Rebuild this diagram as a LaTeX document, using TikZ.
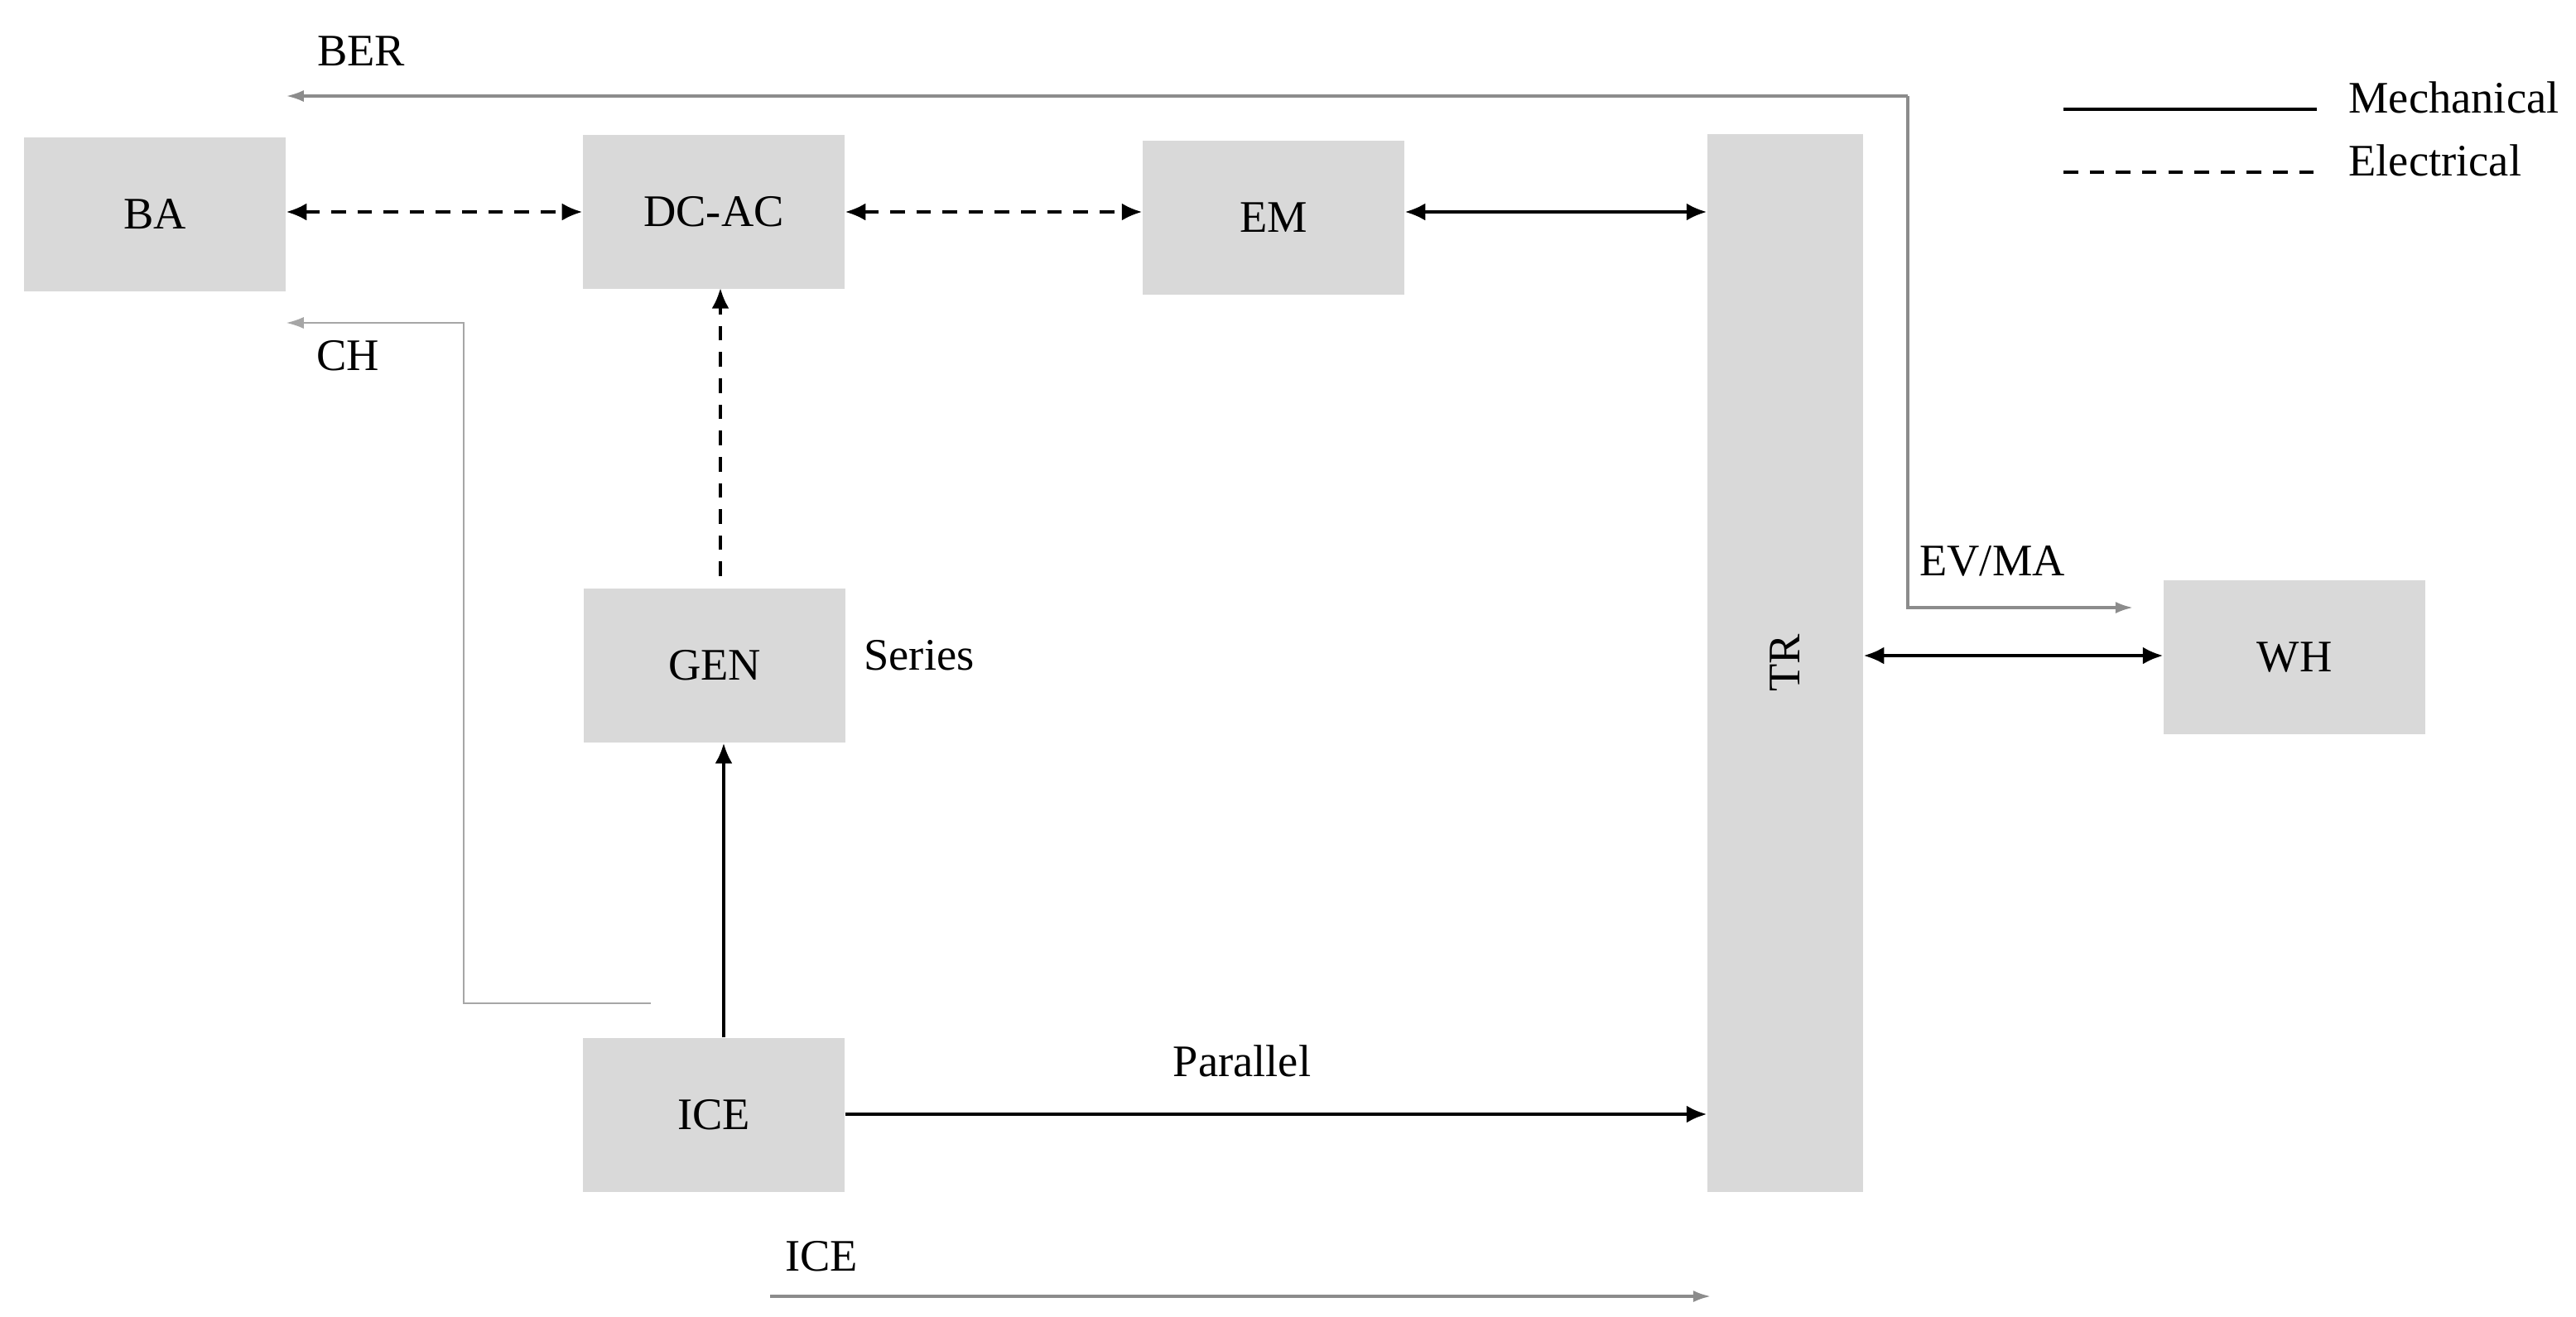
\documentclass[tikz,border=0pt]{standalone}
\usepackage{fontspec}
\setmainfont{Liberation Serif}
\usetikzlibrary{arrows.meta}
\begin{document}
\begin{tikzpicture}[x=0.02cm,y=-0.02cm,
  box/.style={draw=none,fill=black!15,minimum width=3.16cm,minimum height=1.86cm,inner sep=0pt},
  lab/.style={font=\fontsize{15.5}{18}\selectfont},
  mech/.style={line width=1.1pt,{Latex[length=7pt,width=6pt]}-{Latex[length=7pt,width=6pt]}},
  mechs/.style={line width=1.1pt,-{Latex[length=7pt,width=6pt]}},
  elec/.style={mech,dash pattern=on 5pt off 4pt},
  flow/.style={line width=0.9pt,draw=black!45,-{Latex[length=6pt,width=4pt]}}]
\useasboundingbox (0,0) rectangle (1555.5,795);
\node[box,lab] (BA) at (93.5,129.5) {BA};
\node[box,lab] (DC) at (431,128) {DC-AC};
\node[box,lab] (EM) at (769,131.5) {EM};
\node[box,lab,minimum width=1.88cm,minimum height=12.78cm] (TR) at (1078,400.5) {};
\node[lab,rotate=90] at (TR.center) {TR};
\node[box,lab] (WH) at (1385.5,397) {WH};
\node[box,lab] (GEN) at (431.5,402) {GEN};
\node[box,lab] (ICE) at (431,673.5) {ICE};
\draw[elec] (BA.east|-0,128) -- (DC.west|-0,128);
\draw[elec] (DC.east|-0,128) -- (EM.west|-0,128);
\draw[mech] (EM.east|-0,128) -- (TR.west|-0,128);
\draw[mechs,dash pattern=on 5pt off 4pt] (435,348) -- (435,174);
\draw[mechs] (ICE.north-|437,0) -- (GEN.south-|437,0);
\draw[mechs] (ICE.east|-0,673) -- (TR.west|-0,673);
\draw[mech] (TR.east|-0,396) -- (WH.west|-0,396);
\coordinate (b1) at (1152,58);
\coordinate (b2) at (1152,367);
\coordinate (e1) at (1288,367);
\draw[flow] (b1) -- (BA.east|-b1);
\draw[flow] (b1) -- (b2) -- (e1);
\coordinate (c1) at (393,606);
\coordinate (c2) at (280,606);
\coordinate (c3) at (280,195);
\draw[flow,line width=0.6pt,draw=black!35] (c1) -- (c2) -- (c3) -- (BA.east|-c3);
\coordinate (i1) at (465,783);
\coordinate (i2) at (1033,783);
\draw[flow] (i1) -- (i2);
\node[lab] at (218,31) {BER};
\node[lab] at (210,215) {CH};
\node[lab] at (1203,339) {EV/MA};
\node[lab] at (496,759) {ICE};
\node[lab] at (555,396) {Series};
\node[lab] at (750,641) {Parallel};
\coordinate (l1) at (1246,66); \coordinate (l2) at (1399,66);
\coordinate (l3) at (1246,104); \coordinate (l4) at (1399,104);
\draw[line width=1.1pt] (l1) -- (l2);
\draw[line width=1.1pt,dash pattern=on 5pt off 4pt] (l3) -- (l4);
\node[lab,anchor=west] at (1412,59) {Mechanical};
\node[lab,anchor=west] at (1412,97) {Electrical};
\end{tikzpicture}
\end{document}
